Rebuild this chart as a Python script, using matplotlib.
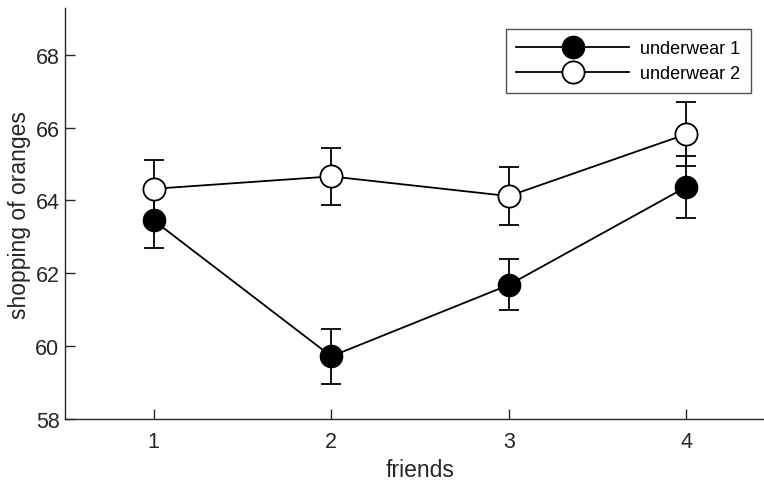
import matplotlib
matplotlib.use("Agg")
import matplotlib.pyplot as plt

plt.rcParams['font.family'] = ['Liberation Sans', 'DejaVu Sans']

friends = [1, 2, 3, 4]
uw1_mean = [63.45, 59.72, 61.68, 64.37]
uw1_err = [0.75, 0.75, 0.70, 0.85]
uw2_mean = [64.32, 64.66, 64.12, 65.82]
uw2_err = [0.78, 0.78, 0.80, 0.87]
series_labels = ['underwear 1', 'underwear 2']

fig = plt.figure(figsize=(7.64, 4.81), dpi=100)
ax = fig.add_axes([65/764, (481-420)/481, (775-65)/764, (420-9.5)/481])

lw = 1.3
e1 = ax.errorbar(friends, uw1_mean, yerr=uw1_err, color='black', lw=lw,
                 marker='o', markersize=16, markerfacecolor='black', markeredgecolor='black',
                 capsize=7.5, capthick=lw, elinewidth=lw, zorder=3)
e2 = ax.errorbar(friends, uw2_mean, yerr=uw2_err, color='black', lw=lw,
                 marker='o', markersize=16, markerfacecolor='white', markeredgecolor='black',
                 markeredgewidth=lw, capsize=7.5, capthick=lw, elinewidth=lw, zorder=4)

ax.set_xlim(0.5, 4.5)
ax.set_ylim(58, 69.27)
ax.set_xticks(friends)
ax.set_yticks([58, 60, 62, 64, 66, 68])
ax.spines['top'].set_visible(False)
ax.spines['right'].set_visible(False)
for s in ['left', 'bottom']:
    ax.spines[s].set_linewidth(1.0)
    ax.spines[s].set_color('#262626')
ax.tick_params(direction='in', length=7, width=1.0, labelsize=15.5, colors='#262626')
ax.tick_params(axis='x', pad=9)
ax.tick_params(axis='y', pad=4)
ax.set_xlabel('friends', fontsize=16.5, color='#262626', labelpad=4)
ax.set_ylabel('shopping of oranges', fontsize=16.5, color='#262626', labelpad=3)

leg = fig.legend([e1.lines[0], e2.lines[0]], series_labels,
                 loc='upper right', bbox_to_anchor=(751/764, 1 - 30/481),
                 fontsize=13, frameon=True, fancybox=False, edgecolor='#262626',
                 handlelength=6.25, handletextpad=0.6, borderpad=0.6,
                 labelspacing=0.45, borderaxespad=0, numpoints=1)
leg.get_frame().set_linewidth(1.0)

fig.savefig('out.png', dpi=100)
